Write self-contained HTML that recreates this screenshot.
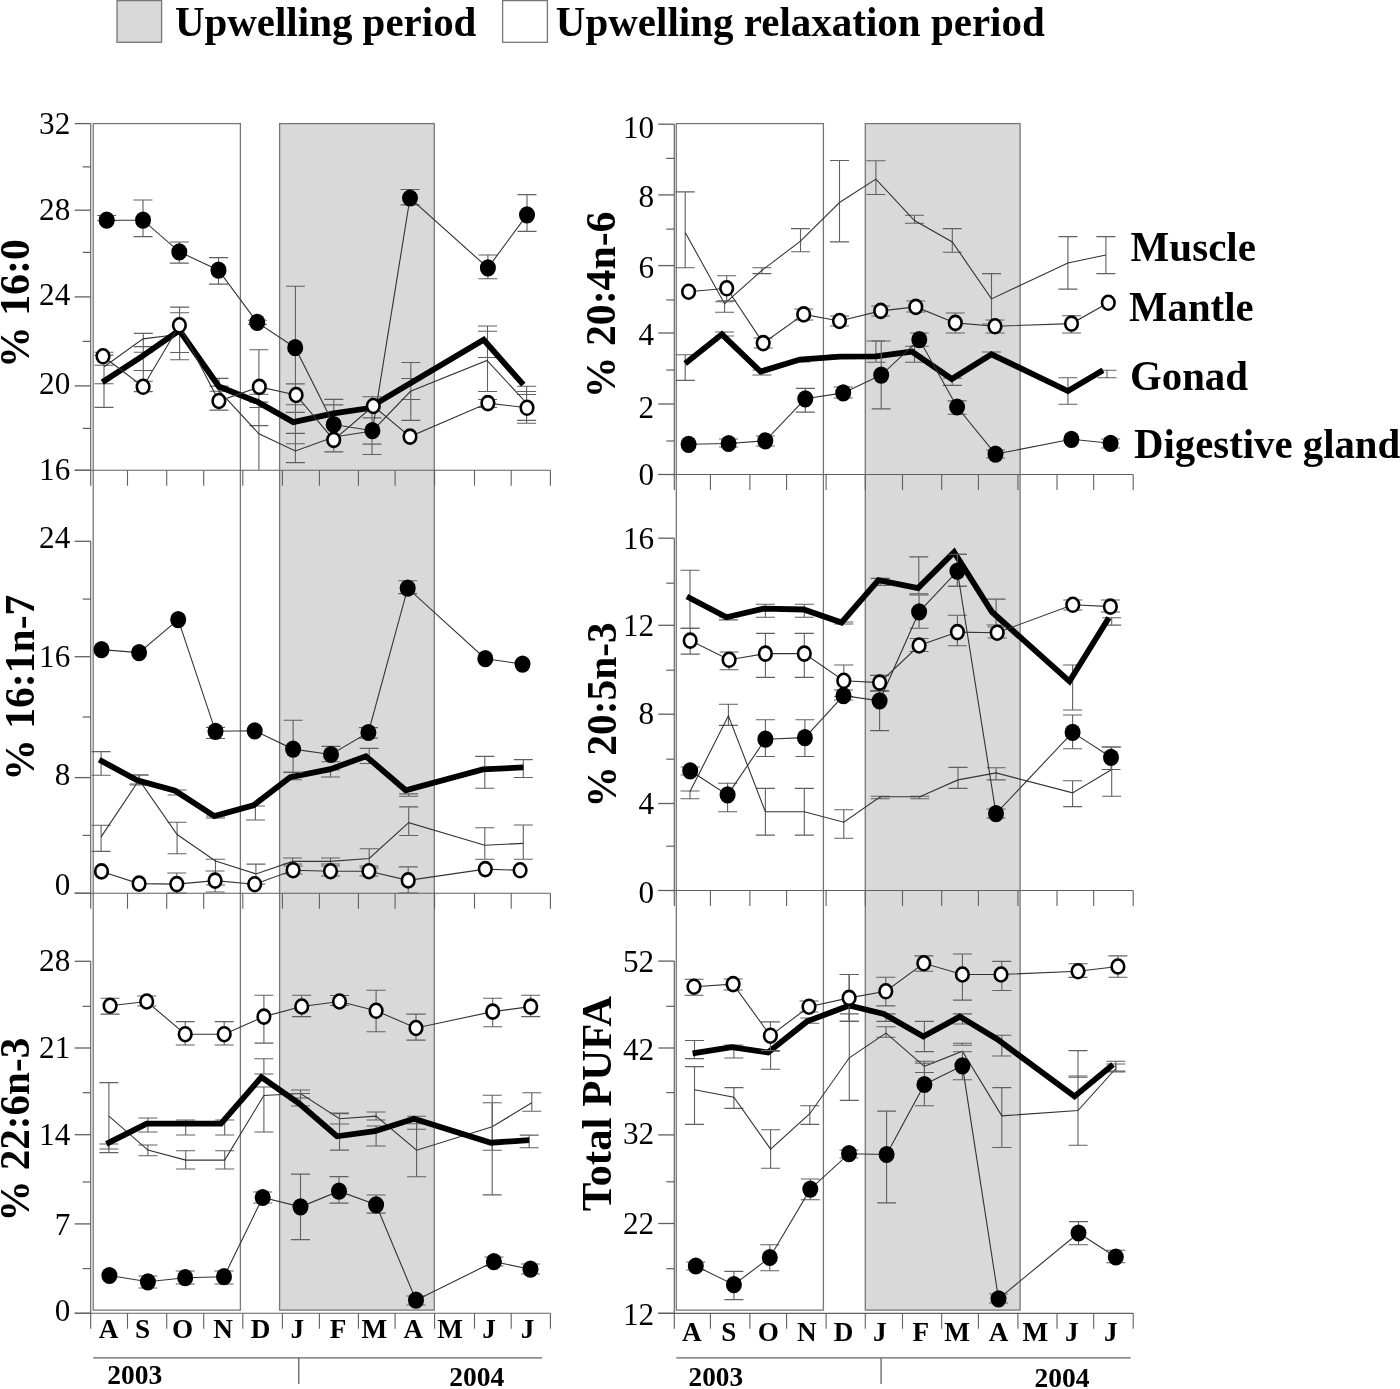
<!DOCTYPE html><html><head><meta charset="utf-8"><style>html,body{margin:0;padding:0;background:#fff;overflow:hidden}svg{display:block;will-change:transform}</style></head><body><svg width="1400" height="1389" viewBox="0 0 1400 1389">
<style>text{font-family:"Liberation Serif",serif;fill:#000}.tl{font-size:31.5px}.b{font-weight:bold}</style>
<rect width="1400" height="1389" fill="#fff"/>
<rect x="279.6" y="123.6" width="154.7" height="1186.5" fill="#d9d9d9" stroke="#777" stroke-width="1.3"/>
<rect x="93.2" y="123.6" width="147.2" height="1186.5" fill="none" stroke="#777" stroke-width="1.3"/>
<rect x="865.3" y="123.6" width="154.8" height="1186.5" fill="#d9d9d9" stroke="#777" stroke-width="1.3"/>
<rect x="676.3" y="123.6" width="147.1" height="1186.5" fill="none" stroke="#777" stroke-width="1.3"/>
<line x1="90.7" y1="123.6" x2="90.7" y2="485.7" stroke="#606060" stroke-width="1.15"/>
<line x1="74.7" y1="470.2" x2="550.4" y2="470.2" stroke="#606060" stroke-width="1.15"/>
<line x1="127.5" y1="470.2" x2="127.5" y2="485.7" stroke="#606060" stroke-width="1.1"/>
<line x1="166.7" y1="470.2" x2="166.7" y2="485.7" stroke="#606060" stroke-width="1.1"/>
<line x1="203.7" y1="470.2" x2="203.7" y2="485.7" stroke="#606060" stroke-width="1.1"/>
<line x1="242.8" y1="470.2" x2="242.8" y2="485.7" stroke="#606060" stroke-width="1.1"/>
<line x1="282.4" y1="470.2" x2="282.4" y2="485.7" stroke="#606060" stroke-width="1.1"/>
<line x1="319.4" y1="470.2" x2="319.4" y2="485.7" stroke="#606060" stroke-width="1.1"/>
<line x1="358.4" y1="470.2" x2="358.4" y2="485.7" stroke="#606060" stroke-width="1.1"/>
<line x1="395.1" y1="470.2" x2="395.1" y2="485.7" stroke="#606060" stroke-width="1.1"/>
<line x1="434.6" y1="470.2" x2="434.6" y2="485.7" stroke="#606060" stroke-width="1.1"/>
<line x1="474.5" y1="470.2" x2="474.5" y2="485.7" stroke="#606060" stroke-width="1.1"/>
<line x1="511.2" y1="470.2" x2="511.2" y2="485.7" stroke="#606060" stroke-width="1.1"/>
<line x1="550.4" y1="470.2" x2="550.4" y2="485.7" stroke="#606060" stroke-width="1.1"/>
<line x1="74.7" y1="123.6" x2="90.7" y2="123.6" stroke="#606060" stroke-width="1.3"/>
<text x="70.3" y="133.5" text-anchor="end" class="tl" textLength="31.2" lengthAdjust="spacingAndGlyphs">32</text>
<line x1="74.7" y1="210.2" x2="90.7" y2="210.2" stroke="#606060" stroke-width="1.3"/>
<text x="70.3" y="220.2" text-anchor="end" class="tl" textLength="31.2" lengthAdjust="spacingAndGlyphs">28</text>
<line x1="74.7" y1="296.9" x2="90.7" y2="296.9" stroke="#606060" stroke-width="1.3"/>
<text x="70.3" y="304.5" text-anchor="end" class="tl" textLength="31.2" lengthAdjust="spacingAndGlyphs">24</text>
<line x1="74.7" y1="385.9" x2="90.7" y2="385.9" stroke="#606060" stroke-width="1.3"/>
<text x="70.3" y="393.6" text-anchor="end" class="tl" textLength="31.2" lengthAdjust="spacingAndGlyphs">20</text>
<line x1="74.7" y1="470.2" x2="90.7" y2="470.2" stroke="#606060" stroke-width="1.3"/>
<text x="70.3" y="479.9" text-anchor="end" class="tl" textLength="31.2" lengthAdjust="spacingAndGlyphs">16</text>
<line x1="82.7" y1="166.9" x2="90.7" y2="166.9" stroke="#606060" stroke-width="1.2"/>
<line x1="82.7" y1="252.4" x2="90.7" y2="252.4" stroke="#606060" stroke-width="1.2"/>
<line x1="82.7" y1="341.4" x2="90.7" y2="341.4" stroke="#606060" stroke-width="1.2"/>
<line x1="82.7" y1="428.4" x2="90.7" y2="428.4" stroke="#606060" stroke-width="1.2"/>
<line x1="90.7" y1="541.3" x2="90.7" y2="908.7" stroke="#606060" stroke-width="1.15"/>
<line x1="74.7" y1="893.2" x2="550.4" y2="893.2" stroke="#606060" stroke-width="1.15"/>
<line x1="127.5" y1="893.2" x2="127.5" y2="908.7" stroke="#606060" stroke-width="1.1"/>
<line x1="166.7" y1="893.2" x2="166.7" y2="908.7" stroke="#606060" stroke-width="1.1"/>
<line x1="203.7" y1="893.2" x2="203.7" y2="908.7" stroke="#606060" stroke-width="1.1"/>
<line x1="242.8" y1="893.2" x2="242.8" y2="908.7" stroke="#606060" stroke-width="1.1"/>
<line x1="282.4" y1="893.2" x2="282.4" y2="908.7" stroke="#606060" stroke-width="1.1"/>
<line x1="319.4" y1="893.2" x2="319.4" y2="908.7" stroke="#606060" stroke-width="1.1"/>
<line x1="358.4" y1="893.2" x2="358.4" y2="908.7" stroke="#606060" stroke-width="1.1"/>
<line x1="395.1" y1="893.2" x2="395.1" y2="908.7" stroke="#606060" stroke-width="1.1"/>
<line x1="434.6" y1="893.2" x2="434.6" y2="908.7" stroke="#606060" stroke-width="1.1"/>
<line x1="474.5" y1="893.2" x2="474.5" y2="908.7" stroke="#606060" stroke-width="1.1"/>
<line x1="511.2" y1="893.2" x2="511.2" y2="908.7" stroke="#606060" stroke-width="1.1"/>
<line x1="550.4" y1="893.2" x2="550.4" y2="908.7" stroke="#606060" stroke-width="1.1"/>
<line x1="74.7" y1="541.3" x2="90.7" y2="541.3" stroke="#606060" stroke-width="1.3"/>
<text x="70.3" y="548.4" text-anchor="end" class="tl" textLength="31.2" lengthAdjust="spacingAndGlyphs">24</text>
<line x1="74.7" y1="656.7" x2="90.7" y2="656.7" stroke="#606060" stroke-width="1.3"/>
<text x="70.3" y="666.7" text-anchor="end" class="tl" textLength="31.2" lengthAdjust="spacingAndGlyphs">16</text>
<line x1="74.7" y1="777.6" x2="90.7" y2="777.6" stroke="#606060" stroke-width="1.3"/>
<text x="70.3" y="784.9" text-anchor="end" class="tl" textLength="15.6" lengthAdjust="spacingAndGlyphs">8</text>
<line x1="74.7" y1="893.2" x2="90.7" y2="893.2" stroke="#606060" stroke-width="1.3"/>
<text x="70.3" y="895.2" text-anchor="end" class="tl" textLength="15.6" lengthAdjust="spacingAndGlyphs">0</text>
<line x1="82.7" y1="599.1" x2="90.7" y2="599.1" stroke="#606060" stroke-width="1.2"/>
<line x1="82.7" y1="717.0" x2="90.7" y2="717.0" stroke="#606060" stroke-width="1.2"/>
<line x1="82.7" y1="835.4" x2="90.7" y2="835.4" stroke="#606060" stroke-width="1.2"/>
<line x1="90.7" y1="961.3" x2="90.7" y2="1328.7" stroke="#606060" stroke-width="1.15"/>
<line x1="74.7" y1="1313.2" x2="550.4" y2="1313.2" stroke="#606060" stroke-width="1.15"/>
<line x1="127.5" y1="1313.2" x2="127.5" y2="1328.7" stroke="#606060" stroke-width="1.1"/>
<line x1="166.7" y1="1313.2" x2="166.7" y2="1328.7" stroke="#606060" stroke-width="1.1"/>
<line x1="203.7" y1="1313.2" x2="203.7" y2="1328.7" stroke="#606060" stroke-width="1.1"/>
<line x1="242.8" y1="1313.2" x2="242.8" y2="1328.7" stroke="#606060" stroke-width="1.1"/>
<line x1="282.4" y1="1313.2" x2="282.4" y2="1328.7" stroke="#606060" stroke-width="1.1"/>
<line x1="319.4" y1="1313.2" x2="319.4" y2="1328.7" stroke="#606060" stroke-width="1.1"/>
<line x1="358.4" y1="1313.2" x2="358.4" y2="1328.7" stroke="#606060" stroke-width="1.1"/>
<line x1="395.1" y1="1313.2" x2="395.1" y2="1328.7" stroke="#606060" stroke-width="1.1"/>
<line x1="434.6" y1="1313.2" x2="434.6" y2="1328.7" stroke="#606060" stroke-width="1.1"/>
<line x1="474.5" y1="1313.2" x2="474.5" y2="1328.7" stroke="#606060" stroke-width="1.1"/>
<line x1="511.2" y1="1313.2" x2="511.2" y2="1328.7" stroke="#606060" stroke-width="1.1"/>
<line x1="550.4" y1="1313.2" x2="550.4" y2="1328.7" stroke="#606060" stroke-width="1.1"/>
<line x1="74.7" y1="961.3" x2="90.7" y2="961.3" stroke="#606060" stroke-width="1.3"/>
<text x="70.3" y="971.4" text-anchor="end" class="tl" textLength="31.2" lengthAdjust="spacingAndGlyphs">28</text>
<line x1="74.7" y1="1048.0" x2="90.7" y2="1048.0" stroke="#606060" stroke-width="1.3"/>
<text x="70.3" y="1058.2" text-anchor="end" class="tl" textLength="31.2" lengthAdjust="spacingAndGlyphs">21</text>
<line x1="74.7" y1="1134.7" x2="90.7" y2="1134.7" stroke="#606060" stroke-width="1.3"/>
<text x="70.3" y="1144.9" text-anchor="end" class="tl" textLength="31.2" lengthAdjust="spacingAndGlyphs">14</text>
<line x1="74.7" y1="1223.9" x2="90.7" y2="1223.9" stroke="#606060" stroke-width="1.3"/>
<text x="70.3" y="1234.5" text-anchor="end" class="tl" textLength="15.6" lengthAdjust="spacingAndGlyphs">7</text>
<line x1="74.7" y1="1313.2" x2="90.7" y2="1313.2" stroke="#606060" stroke-width="1.3"/>
<text x="70.3" y="1320.6" text-anchor="end" class="tl" textLength="15.6" lengthAdjust="spacingAndGlyphs">0</text>
<line x1="82.7" y1="1006.3" x2="90.7" y2="1006.3" stroke="#606060" stroke-width="1.2"/>
<line x1="82.7" y1="1092.7" x2="90.7" y2="1092.7" stroke="#606060" stroke-width="1.2"/>
<line x1="82.7" y1="1182.0" x2="90.7" y2="1182.0" stroke="#606060" stroke-width="1.2"/>
<line x1="82.7" y1="1268.6" x2="90.7" y2="1268.6" stroke="#606060" stroke-width="1.2"/>
<line x1="674.3" y1="124.2" x2="674.3" y2="490.0" stroke="#606060" stroke-width="1.15"/>
<line x1="658.3" y1="474.5" x2="1133.2" y2="474.5" stroke="#606060" stroke-width="1.15"/>
<line x1="710.4" y1="474.5" x2="710.4" y2="490.0" stroke="#606060" stroke-width="1.1"/>
<line x1="749.9" y1="474.5" x2="749.9" y2="490.0" stroke="#606060" stroke-width="1.1"/>
<line x1="786.6" y1="474.5" x2="786.6" y2="490.0" stroke="#606060" stroke-width="1.1"/>
<line x1="826.1" y1="474.5" x2="826.1" y2="490.0" stroke="#606060" stroke-width="1.1"/>
<line x1="865.3" y1="474.5" x2="865.3" y2="490.0" stroke="#606060" stroke-width="1.1"/>
<line x1="902.5" y1="474.5" x2="902.5" y2="490.0" stroke="#606060" stroke-width="1.1"/>
<line x1="941.7" y1="474.5" x2="941.7" y2="490.0" stroke="#606060" stroke-width="1.1"/>
<line x1="978.4" y1="474.5" x2="978.4" y2="490.0" stroke="#606060" stroke-width="1.1"/>
<line x1="1017.9" y1="474.5" x2="1017.9" y2="490.0" stroke="#606060" stroke-width="1.1"/>
<line x1="1057.0" y1="474.5" x2="1057.0" y2="490.0" stroke="#606060" stroke-width="1.1"/>
<line x1="1093.7" y1="474.5" x2="1093.7" y2="490.0" stroke="#606060" stroke-width="1.1"/>
<line x1="1133.2" y1="474.5" x2="1133.2" y2="490.0" stroke="#606060" stroke-width="1.1"/>
<line x1="658.3" y1="124.2" x2="674.3" y2="124.2" stroke="#606060" stroke-width="1.3"/>
<text x="654.2" y="138.0" text-anchor="end" class="tl" textLength="31.2" lengthAdjust="spacingAndGlyphs">10</text>
<line x1="658.3" y1="194.9" x2="674.3" y2="194.9" stroke="#606060" stroke-width="1.3"/>
<text x="654.2" y="207.3" text-anchor="end" class="tl" textLength="15.6" lengthAdjust="spacingAndGlyphs">8</text>
<line x1="658.3" y1="265.6" x2="674.3" y2="265.6" stroke="#606060" stroke-width="1.3"/>
<text x="654.2" y="277.5" text-anchor="end" class="tl" textLength="15.6" lengthAdjust="spacingAndGlyphs">6</text>
<line x1="658.3" y1="333.0" x2="674.3" y2="333.0" stroke="#606060" stroke-width="1.3"/>
<text x="654.2" y="344.9" text-anchor="end" class="tl" textLength="15.6" lengthAdjust="spacingAndGlyphs">4</text>
<line x1="658.3" y1="404.0" x2="674.3" y2="404.0" stroke="#606060" stroke-width="1.3"/>
<text x="654.2" y="417.5" text-anchor="end" class="tl" textLength="15.6" lengthAdjust="spacingAndGlyphs">2</text>
<line x1="658.3" y1="474.5" x2="674.3" y2="474.5" stroke="#606060" stroke-width="1.3"/>
<text x="654.2" y="485.3" text-anchor="end" class="tl" textLength="15.6" lengthAdjust="spacingAndGlyphs">0</text>
<line x1="666.3" y1="158.4" x2="674.3" y2="158.4" stroke="#606060" stroke-width="1.2"/>
<line x1="666.3" y1="229.1" x2="674.3" y2="229.1" stroke="#606060" stroke-width="1.2"/>
<line x1="666.3" y1="299.9" x2="674.3" y2="299.9" stroke="#606060" stroke-width="1.2"/>
<line x1="666.3" y1="370.0" x2="674.3" y2="370.0" stroke="#606060" stroke-width="1.2"/>
<line x1="666.3" y1="441.0" x2="674.3" y2="441.0" stroke="#606060" stroke-width="1.2"/>
<line x1="674.3" y1="538.2" x2="674.3" y2="906.0" stroke="#606060" stroke-width="1.15"/>
<line x1="658.3" y1="890.5" x2="1133.2" y2="890.5" stroke="#606060" stroke-width="1.15"/>
<line x1="710.4" y1="890.5" x2="710.4" y2="906.0" stroke="#606060" stroke-width="1.1"/>
<line x1="749.9" y1="890.5" x2="749.9" y2="906.0" stroke="#606060" stroke-width="1.1"/>
<line x1="786.6" y1="890.5" x2="786.6" y2="906.0" stroke="#606060" stroke-width="1.1"/>
<line x1="826.1" y1="890.5" x2="826.1" y2="906.0" stroke="#606060" stroke-width="1.1"/>
<line x1="865.3" y1="890.5" x2="865.3" y2="906.0" stroke="#606060" stroke-width="1.1"/>
<line x1="902.5" y1="890.5" x2="902.5" y2="906.0" stroke="#606060" stroke-width="1.1"/>
<line x1="941.7" y1="890.5" x2="941.7" y2="906.0" stroke="#606060" stroke-width="1.1"/>
<line x1="978.4" y1="890.5" x2="978.4" y2="906.0" stroke="#606060" stroke-width="1.1"/>
<line x1="1017.9" y1="890.5" x2="1017.9" y2="906.0" stroke="#606060" stroke-width="1.1"/>
<line x1="1057.0" y1="890.5" x2="1057.0" y2="906.0" stroke="#606060" stroke-width="1.1"/>
<line x1="1093.7" y1="890.5" x2="1093.7" y2="906.0" stroke="#606060" stroke-width="1.1"/>
<line x1="1133.2" y1="890.5" x2="1133.2" y2="906.0" stroke="#606060" stroke-width="1.1"/>
<line x1="658.3" y1="538.2" x2="674.3" y2="538.2" stroke="#606060" stroke-width="1.3"/>
<text x="654.2" y="548.7" text-anchor="end" class="tl" textLength="31.2" lengthAdjust="spacingAndGlyphs">16</text>
<line x1="658.3" y1="625.3" x2="674.3" y2="625.3" stroke="#606060" stroke-width="1.3"/>
<text x="654.2" y="636.0" text-anchor="end" class="tl" textLength="31.2" lengthAdjust="spacingAndGlyphs">12</text>
<line x1="658.3" y1="714.2" x2="674.3" y2="714.2" stroke="#606060" stroke-width="1.3"/>
<text x="654.2" y="724.2" text-anchor="end" class="tl" textLength="15.6" lengthAdjust="spacingAndGlyphs">8</text>
<line x1="658.3" y1="803.5" x2="674.3" y2="803.5" stroke="#606060" stroke-width="1.3"/>
<text x="654.2" y="814.0" text-anchor="end" class="tl" textLength="15.6" lengthAdjust="spacingAndGlyphs">4</text>
<line x1="658.3" y1="890.5" x2="674.3" y2="890.5" stroke="#606060" stroke-width="1.3"/>
<text x="654.2" y="902.5" text-anchor="end" class="tl" textLength="15.6" lengthAdjust="spacingAndGlyphs">0</text>
<line x1="666.3" y1="583.2" x2="674.3" y2="583.2" stroke="#606060" stroke-width="1.2"/>
<line x1="666.3" y1="670.2" x2="674.3" y2="670.2" stroke="#606060" stroke-width="1.2"/>
<line x1="666.3" y1="759.2" x2="674.3" y2="759.2" stroke="#606060" stroke-width="1.2"/>
<line x1="666.3" y1="846.2" x2="674.3" y2="846.2" stroke="#606060" stroke-width="1.2"/>
<line x1="674.3" y1="961.1" x2="674.3" y2="1328.8" stroke="#606060" stroke-width="1.15"/>
<line x1="658.3" y1="1313.3" x2="1133.2" y2="1313.3" stroke="#606060" stroke-width="1.15"/>
<line x1="710.4" y1="1313.3" x2="710.4" y2="1328.8" stroke="#606060" stroke-width="1.1"/>
<line x1="749.9" y1="1313.3" x2="749.9" y2="1328.8" stroke="#606060" stroke-width="1.1"/>
<line x1="786.6" y1="1313.3" x2="786.6" y2="1328.8" stroke="#606060" stroke-width="1.1"/>
<line x1="826.1" y1="1313.3" x2="826.1" y2="1328.8" stroke="#606060" stroke-width="1.1"/>
<line x1="865.3" y1="1313.3" x2="865.3" y2="1328.8" stroke="#606060" stroke-width="1.1"/>
<line x1="902.5" y1="1313.3" x2="902.5" y2="1328.8" stroke="#606060" stroke-width="1.1"/>
<line x1="941.7" y1="1313.3" x2="941.7" y2="1328.8" stroke="#606060" stroke-width="1.1"/>
<line x1="978.4" y1="1313.3" x2="978.4" y2="1328.8" stroke="#606060" stroke-width="1.1"/>
<line x1="1017.9" y1="1313.3" x2="1017.9" y2="1328.8" stroke="#606060" stroke-width="1.1"/>
<line x1="1057.0" y1="1313.3" x2="1057.0" y2="1328.8" stroke="#606060" stroke-width="1.1"/>
<line x1="1093.7" y1="1313.3" x2="1093.7" y2="1328.8" stroke="#606060" stroke-width="1.1"/>
<line x1="1133.2" y1="1313.3" x2="1133.2" y2="1328.8" stroke="#606060" stroke-width="1.1"/>
<line x1="658.3" y1="961.1" x2="674.3" y2="961.1" stroke="#606060" stroke-width="1.3"/>
<text x="654.2" y="972.2" text-anchor="end" class="tl" textLength="31.2" lengthAdjust="spacingAndGlyphs">52</text>
<line x1="658.3" y1="1048.0" x2="674.3" y2="1048.0" stroke="#606060" stroke-width="1.3"/>
<text x="654.2" y="1060.0" text-anchor="end" class="tl" textLength="31.2" lengthAdjust="spacingAndGlyphs">42</text>
<line x1="658.3" y1="1134.9" x2="674.3" y2="1134.9" stroke="#606060" stroke-width="1.3"/>
<text x="654.2" y="1144.1" text-anchor="end" class="tl" textLength="31.2" lengthAdjust="spacingAndGlyphs">32</text>
<line x1="658.3" y1="1223.5" x2="674.3" y2="1223.5" stroke="#606060" stroke-width="1.3"/>
<text x="654.2" y="1234.1" text-anchor="end" class="tl" textLength="31.2" lengthAdjust="spacingAndGlyphs">22</text>
<line x1="658.3" y1="1313.3" x2="674.3" y2="1313.3" stroke="#606060" stroke-width="1.3"/>
<text x="654.2" y="1324.7" text-anchor="end" class="tl" textLength="31.2" lengthAdjust="spacingAndGlyphs">12</text>
<line x1="666.3" y1="1006.3" x2="674.3" y2="1006.3" stroke="#606060" stroke-width="1.2"/>
<line x1="666.3" y1="1092.6" x2="674.3" y2="1092.6" stroke="#606060" stroke-width="1.2"/>
<line x1="666.3" y1="1181.8" x2="674.3" y2="1181.8" stroke="#606060" stroke-width="1.2"/>
<line x1="666.3" y1="1268.7" x2="674.3" y2="1268.7" stroke="#606060" stroke-width="1.2"/>
<path d="M104.0 352.2V407.4M94.5 352.2h19M94.5 355.1h19M94.5 365.2h19M94.5 383.8h19M94.5 407.4h19" stroke="#606060" stroke-width="1.1" fill="none"/>
<path d="M143.3 333.4V391.6M133.8 333.4h19M133.8 346.6h19M133.8 352.2h19M133.8 370.5h19M133.8 381.2h19M133.8 391.6h19" stroke="#606060" stroke-width="1.1" fill="none"/>
<path d="M179.6 307.1V359.8M170.1 307.1h19M170.1 312.7h19M170.1 352.5h19M170.1 359.8h19" stroke="#606060" stroke-width="1.1" fill="none"/>
<path d="M219.0 378.4V410.1M209.5 378.4h19M209.5 386.1h19M209.5 391.3h19M209.5 410.1h19" stroke="#606060" stroke-width="1.1" fill="none"/>
<path d="M258.9 349.7V470.0M249.4 349.7h19M249.4 394.2h19M249.4 402.1h19M249.4 407.5h19M249.4 425.6h19" stroke="#606060" stroke-width="1.1" fill="none"/>
<path d="M295.4 286.2V462.6M285.9 286.2h19M285.9 383.9h19M285.9 404.7h19M285.9 412.4h19M285.9 433.4h19M285.9 443.8h19M285.9 462.6h19" stroke="#606060" stroke-width="1.1" fill="none"/>
<path d="M333.8 399.4V451.9M324.3 399.4h19M324.3 404.9h19M324.3 451.9h19" stroke="#606060" stroke-width="1.1" fill="none"/>
<path d="M372.0 396.8V454.5M362.5 396.8h19M362.5 417.9h19M362.5 444.1h19M362.5 454.5h19" stroke="#606060" stroke-width="1.1" fill="none"/>
<path d="M410.8 362.5V420.4M401.3 362.5h19M401.3 378.5h19M401.3 399.5h19M401.3 420.4h19" stroke="#606060" stroke-width="1.1" fill="none"/>
<path d="M487.5 326.0V391.5M478.0 326.0h19M478.0 331.3h19M478.0 357.5h19M478.0 391.5h19M478.0 399.5h19M478.0 407.5h19" stroke="#606060" stroke-width="1.1" fill="none"/>
<path d="M526.6 386.3V423.3M517.1 386.3h19M517.1 391.5h19M517.1 394.5h19M517.1 420.4h19M517.1 423.3h19" stroke="#606060" stroke-width="1.1" fill="none"/>
<path d="M104.1 366.7 L143.0 338.9 L180.0 334.3 L219.0 390.7 L258.9 433.8 L295.4 450.9 L333.8 437.0 L372.4 431.0 L410.5 391.3 L487.0 360.5 L526.5 403.0" stroke="#333" stroke-width="1.1" fill="none"/>
<path d="M102.3 382.3 L143.1 355.7 L179.4 330.4 L218.9 386.5 L257.6 401.9 L293.3 422.1 L333.7 413.4 L368.2 408.3 L483.7 339.8 L523.3 384.7" stroke="#000" stroke-width="5.8" fill="none" stroke-linejoin="miter" stroke-miterlimit="3"/>
<path d="M103.0 356.3 L143.1 386.8 L179.4 325.3 L218.9 401.0 L259.3 386.9 L296.1 395.0 L333.7 439.9 L373.3 406.0 L410.0 436.6 L487.9 403.1 L527.0 407.8" stroke="#333" stroke-width="1.1" fill="none"/>
<path d="M106.7 215.5V220.7M97.2 215.5h19M97.2 220.7h19" stroke="#606060" stroke-width="1.1" fill="none"/>
<path d="M143.0 200.0V236.6M133.5 200.0h19M133.5 236.6h19" stroke="#606060" stroke-width="1.1" fill="none"/>
<path d="M179.3 242.0V263.1M169.8 242.0h19M169.8 263.1h19" stroke="#606060" stroke-width="1.1" fill="none"/>
<path d="M218.5 257.6V284.1M209.0 257.6h19M209.0 284.1h19" stroke="#606060" stroke-width="1.1" fill="none"/>
<path d="M257.4 320.3V324.4M247.9 320.3h19M247.9 324.4h19" stroke="#606060" stroke-width="1.1" fill="none"/>
<path d="M410.0 189.5V204.9M400.5 189.5h19M400.5 204.9h19" stroke="#606060" stroke-width="1.1" fill="none"/>
<path d="M487.9 255.0V278.7M478.4 255.0h19M478.4 278.7h19" stroke="#606060" stroke-width="1.1" fill="none"/>
<path d="M527.0 194.6V231.4M517.5 194.6h19M517.5 231.4h19" stroke="#606060" stroke-width="1.1" fill="none"/>
<path d="M106.7 220.2 L143.0 220.2 L179.3 251.8 L218.5 270.2 L257.2 322.4 L295.2 347.7 L333.7 424.5 L372.4 430.7 L410.0 198.0 L487.9 267.9 L527.0 214.9" stroke="#333" stroke-width="1.1" fill="none"/>
<ellipse cx="103.0" cy="356.3" rx="6.3" ry="7.0" fill="#fff" stroke="#000" stroke-width="2.6"/>
<ellipse cx="143.1" cy="386.8" rx="6.3" ry="7.0" fill="#fff" stroke="#000" stroke-width="2.6"/>
<ellipse cx="179.4" cy="325.3" rx="6.3" ry="7.0" fill="#fff" stroke="#000" stroke-width="2.6"/>
<ellipse cx="218.9" cy="401.0" rx="6.3" ry="7.0" fill="#fff" stroke="#000" stroke-width="2.6"/>
<ellipse cx="259.3" cy="386.9" rx="6.3" ry="7.0" fill="#fff" stroke="#000" stroke-width="2.6"/>
<ellipse cx="296.1" cy="395.0" rx="6.3" ry="7.0" fill="#fff" stroke="#000" stroke-width="2.6"/>
<ellipse cx="333.7" cy="439.9" rx="6.3" ry="7.0" fill="#fff" stroke="#000" stroke-width="2.6"/>
<ellipse cx="373.3" cy="406.0" rx="6.3" ry="7.0" fill="#fff" stroke="#000" stroke-width="2.6"/>
<ellipse cx="410.0" cy="436.6" rx="6.3" ry="7.0" fill="#fff" stroke="#000" stroke-width="2.6"/>
<ellipse cx="487.9" cy="403.1" rx="6.3" ry="7.0" fill="#fff" stroke="#000" stroke-width="2.6"/>
<ellipse cx="527.0" cy="407.8" rx="6.3" ry="7.0" fill="#fff" stroke="#000" stroke-width="2.6"/>
<ellipse cx="106.7" cy="220.2" rx="8.0" ry="8.6" fill="#000"/>
<ellipse cx="143.0" cy="220.2" rx="8.0" ry="8.6" fill="#000"/>
<ellipse cx="179.3" cy="251.8" rx="8.0" ry="8.6" fill="#000"/>
<ellipse cx="218.5" cy="270.2" rx="8.0" ry="8.6" fill="#000"/>
<ellipse cx="257.2" cy="322.4" rx="8.0" ry="8.6" fill="#000"/>
<ellipse cx="295.2" cy="347.7" rx="8.0" ry="8.6" fill="#000"/>
<ellipse cx="333.7" cy="424.5" rx="8.0" ry="8.6" fill="#000"/>
<ellipse cx="372.4" cy="430.7" rx="8.0" ry="8.6" fill="#000"/>
<ellipse cx="410.0" cy="198.0" rx="8.0" ry="8.6" fill="#000"/>
<ellipse cx="487.9" cy="267.9" rx="8.0" ry="8.6" fill="#000"/>
<ellipse cx="527.0" cy="214.9" rx="8.0" ry="8.6" fill="#000"/>
<path d="M101.1 825.3V851.4M91.6 825.3h19M91.6 851.4h19" stroke="#606060" stroke-width="1.1" fill="none"/>
<path d="M139.1 775.0V785.0M129.6 775.0h19M129.6 785.0h19" stroke="#606060" stroke-width="1.1" fill="none"/>
<path d="M177.1 822.3V853.7M167.6 822.3h19M167.6 853.7h19" stroke="#606060" stroke-width="1.1" fill="none"/>
<path d="M215.5 859.2V885.0M206.0 859.2h19M206.0 885.0h19" stroke="#606060" stroke-width="1.1" fill="none"/>
<path d="M255.9 864.1V884.0M246.4 864.1h19M246.4 884.0h19" stroke="#606060" stroke-width="1.1" fill="none"/>
<path d="M292.6 858.0V864.0M283.1 858.0h19M283.1 864.0h19" stroke="#606060" stroke-width="1.1" fill="none"/>
<path d="M330.5 858.0V864.0M321.0 858.0h19M321.0 864.0h19" stroke="#606060" stroke-width="1.1" fill="none"/>
<path d="M369.2 848.7V868.0M359.7 848.7h19M359.7 868.0h19" stroke="#606060" stroke-width="1.1" fill="none"/>
<path d="M408.7 806.9V835.5M399.2 806.9h19M399.2 835.5h19" stroke="#606060" stroke-width="1.1" fill="none"/>
<path d="M484.8 827.7V859.3M475.3 827.7h19M475.3 859.3h19" stroke="#606060" stroke-width="1.1" fill="none"/>
<path d="M523.3 825.0V859.3M513.8 825.0h19M513.8 859.3h19" stroke="#606060" stroke-width="1.1" fill="none"/>
<path d="M101.1 836.9 L139.1 780.0 L177.1 834.5 L215.5 861.0 L255.9 873.9 L292.6 861.4 L330.5 861.4 L369.2 858.5 L408.7 822.6 L484.8 845.3 L523.3 843.4" stroke="#333" stroke-width="1.1" fill="none"/>
<path d="M101.1 751.6V775.3M91.6 751.6h19M91.6 775.3h19" stroke="#606060" stroke-width="1.1" fill="none"/>
<path d="M139.1 775.0V784.0M129.6 775.0h19M129.6 784.0h19" stroke="#606060" stroke-width="1.1" fill="none"/>
<path d="M177.1 790.0V795.0M167.6 790.0h19M167.6 795.0h19" stroke="#606060" stroke-width="1.1" fill="none"/>
<path d="M215.5 816.0V818.0M206.0 816.0h19M206.0 818.0h19" stroke="#606060" stroke-width="1.1" fill="none"/>
<path d="M255.4 806.0V820.0M245.9 806.0h19M245.9 820.0h19" stroke="#606060" stroke-width="1.1" fill="none"/>
<path d="M292.6 772.4V779.7M283.1 772.4h19M283.1 779.7h19" stroke="#606060" stroke-width="1.1" fill="none"/>
<path d="M330.5 770.0V777.0M321.0 770.0h19M321.0 777.0h19" stroke="#606060" stroke-width="1.1" fill="none"/>
<path d="M369.2 748.4V763.5M359.7 748.4h19M359.7 763.5h19" stroke="#606060" stroke-width="1.1" fill="none"/>
<path d="M408.7 793.9V796.3M399.2 793.9h19M399.2 796.3h19" stroke="#606060" stroke-width="1.1" fill="none"/>
<path d="M484.8 756.4V788.3M475.3 756.4h19M475.3 788.3h19" stroke="#606060" stroke-width="1.1" fill="none"/>
<path d="M523.3 759.6V777.5M513.8 759.6h19M513.8 777.5h19" stroke="#606060" stroke-width="1.1" fill="none"/>
<path d="M99.2 759.7 L137.2 780.4 L175.2 790.8 L214.4 816.1 L253.5 805.4 L290.2 777.2 L330.5 769.2 L366.0 756.2 L405.7 790.2 L482.9 769.4 L523.3 767.4" stroke="#000" stroke-width="5.8" fill="none" stroke-linejoin="miter" stroke-miterlimit="3"/>
<path d="M176.8 873.0V893.0M167.3 873.0h19M167.3 893.0h19" stroke="#606060" stroke-width="1.1" fill="none"/>
<path d="M215.1 871.0V892.0M205.6 871.0h19M205.6 892.0h19" stroke="#606060" stroke-width="1.1" fill="none"/>
<path d="M293.1 866.0V874.0M283.6 866.0h19M283.6 874.0h19" stroke="#606060" stroke-width="1.1" fill="none"/>
<path d="M330.5 866.0V876.0M321.0 866.0h19M321.0 876.0h19" stroke="#606060" stroke-width="1.1" fill="none"/>
<path d="M368.9 866.0V876.0M359.4 866.0h19M359.4 876.0h19" stroke="#606060" stroke-width="1.1" fill="none"/>
<path d="M408.2 866.9V893.0M398.7 866.9h19M398.7 893.0h19" stroke="#606060" stroke-width="1.1" fill="none"/>
<path d="M101.5 871.4 L139.1 883.6 L176.8 884.1 L215.1 880.6 L254.7 884.2 L293.1 870.2 L330.5 871.2 L368.9 871.2 L408.2 880.4 L485.3 869.1 L520.1 870.3" stroke="#333" stroke-width="1.1" fill="none"/>
<path d="M215.5 727.4V738.5M206.0 727.4h19M206.0 738.5h19" stroke="#606060" stroke-width="1.1" fill="none"/>
<path d="M293.1 720.2V772.4M283.6 720.2h19M283.6 772.4h19" stroke="#606060" stroke-width="1.1" fill="none"/>
<path d="M331.0 746.4V761.8M321.5 746.4h19M321.5 761.8h19" stroke="#606060" stroke-width="1.1" fill="none"/>
<path d="M368.4 727.6V738.1M358.9 727.6h19M358.9 738.1h19" stroke="#606060" stroke-width="1.1" fill="none"/>
<path d="M407.7 580.8V593.6M398.2 580.8h19M398.2 593.6h19" stroke="#606060" stroke-width="1.1" fill="none"/>
<path d="M101.5 649.6 L139.1 652.6 L178.2 619.6 L215.5 731.3 L254.7 730.8 L293.1 749.1 L331.0 754.5 L368.4 732.5 L407.7 588.2 L485.3 658.7 L522.5 664.1" stroke="#333" stroke-width="1.1" fill="none"/>
<ellipse cx="101.5" cy="871.4" rx="6.3" ry="7.0" fill="#fff" stroke="#000" stroke-width="2.6"/>
<ellipse cx="139.1" cy="883.6" rx="6.3" ry="7.0" fill="#fff" stroke="#000" stroke-width="2.6"/>
<ellipse cx="176.8" cy="884.1" rx="6.3" ry="7.0" fill="#fff" stroke="#000" stroke-width="2.6"/>
<ellipse cx="215.1" cy="880.6" rx="6.3" ry="7.0" fill="#fff" stroke="#000" stroke-width="2.6"/>
<ellipse cx="254.7" cy="884.2" rx="6.3" ry="7.0" fill="#fff" stroke="#000" stroke-width="2.6"/>
<ellipse cx="293.1" cy="870.2" rx="6.3" ry="7.0" fill="#fff" stroke="#000" stroke-width="2.6"/>
<ellipse cx="330.5" cy="871.2" rx="6.3" ry="7.0" fill="#fff" stroke="#000" stroke-width="2.6"/>
<ellipse cx="368.9" cy="871.2" rx="6.3" ry="7.0" fill="#fff" stroke="#000" stroke-width="2.6"/>
<ellipse cx="408.2" cy="880.4" rx="6.3" ry="7.0" fill="#fff" stroke="#000" stroke-width="2.6"/>
<ellipse cx="485.3" cy="869.1" rx="6.3" ry="7.0" fill="#fff" stroke="#000" stroke-width="2.6"/>
<ellipse cx="520.1" cy="870.3" rx="6.3" ry="7.0" fill="#fff" stroke="#000" stroke-width="2.6"/>
<ellipse cx="101.5" cy="649.6" rx="8.0" ry="8.6" fill="#000"/>
<ellipse cx="139.1" cy="652.6" rx="8.0" ry="8.6" fill="#000"/>
<ellipse cx="178.2" cy="619.6" rx="8.0" ry="8.6" fill="#000"/>
<ellipse cx="215.5" cy="731.3" rx="8.0" ry="8.6" fill="#000"/>
<ellipse cx="254.7" cy="730.8" rx="8.0" ry="8.6" fill="#000"/>
<ellipse cx="293.1" cy="749.1" rx="8.0" ry="8.6" fill="#000"/>
<ellipse cx="331.0" cy="754.5" rx="8.0" ry="8.6" fill="#000"/>
<ellipse cx="368.4" cy="732.5" rx="8.0" ry="8.6" fill="#000"/>
<ellipse cx="407.7" cy="588.2" rx="8.0" ry="8.6" fill="#000"/>
<ellipse cx="485.3" cy="658.7" rx="8.0" ry="8.6" fill="#000"/>
<ellipse cx="522.5" cy="664.1" rx="8.0" ry="8.6" fill="#000"/>
<path d="M108.9 1082.6V1152.6M99.4 1082.6h19M99.4 1152.6h19" stroke="#606060" stroke-width="1.1" fill="none"/>
<path d="M147.9 1145.0V1155.8M138.4 1145.0h19M138.4 1155.8h19" stroke="#606060" stroke-width="1.1" fill="none"/>
<path d="M185.7 1150.8V1169.0M176.2 1150.8h19M176.2 1169.0h19" stroke="#606060" stroke-width="1.1" fill="none"/>
<path d="M224.7 1150.8V1169.0M215.2 1150.8h19M215.2 1169.0h19" stroke="#606060" stroke-width="1.1" fill="none"/>
<path d="M263.9 1087.0V1132.0M254.4 1087.0h19M254.4 1132.0h19" stroke="#606060" stroke-width="1.1" fill="none"/>
<path d="M300.5 1090.0V1098.0M291.0 1090.0h19M291.0 1098.0h19" stroke="#606060" stroke-width="1.1" fill="none"/>
<path d="M339.5 1113.0V1124.0M330.0 1113.0h19M330.0 1124.0h19" stroke="#606060" stroke-width="1.1" fill="none"/>
<path d="M376.1 1112.0V1120.0M366.6 1112.0h19M366.6 1120.0h19" stroke="#606060" stroke-width="1.1" fill="none"/>
<path d="M416.6 1123.7V1176.7M407.1 1123.7h19M407.1 1176.7h19" stroke="#606060" stroke-width="1.1" fill="none"/>
<path d="M492.2 1095.3V1194.9M482.7 1095.3h19M482.7 1194.9h19" stroke="#606060" stroke-width="1.1" fill="none"/>
<path d="M531.8 1092.8V1111.2M522.3 1092.8h19M522.3 1111.2h19" stroke="#606060" stroke-width="1.1" fill="none"/>
<path d="M108.9 1116.1 L147.9 1150.1 L185.7 1160.1 L224.7 1160.1 L263.9 1095.5 L300.5 1093.5 L339.5 1118.7 L376.1 1116.1 L416.6 1150.2 L492.2 1126.8 L531.8 1102.8" stroke="#333" stroke-width="1.1" fill="none"/>
<path d="M108.9 1144.0V1149.0M99.4 1144.0h19M99.4 1149.0h19" stroke="#606060" stroke-width="1.1" fill="none"/>
<path d="M147.9 1118.0V1132.0M138.4 1118.0h19M138.4 1132.0h19" stroke="#606060" stroke-width="1.1" fill="none"/>
<path d="M185.7 1120.0V1135.0M176.2 1120.0h19M176.2 1135.0h19" stroke="#606060" stroke-width="1.1" fill="none"/>
<path d="M224.7 1120.0V1135.0M215.2 1120.0h19M215.2 1135.0h19" stroke="#606060" stroke-width="1.1" fill="none"/>
<path d="M263.9 1058.7V1074.0M254.4 1058.7h19M254.4 1074.0h19" stroke="#606060" stroke-width="1.1" fill="none"/>
<path d="M300.5 1093.5V1106.0M291.0 1093.5h19M291.0 1106.0h19" stroke="#606060" stroke-width="1.1" fill="none"/>
<path d="M339.5 1113.6V1150.1M330.0 1113.6h19M330.0 1150.1h19" stroke="#606060" stroke-width="1.1" fill="none"/>
<path d="M376.1 1126.0V1146.0M366.6 1126.0h19M366.6 1146.0h19" stroke="#606060" stroke-width="1.1" fill="none"/>
<path d="M416.6 1116.2V1129.3M407.1 1116.2h19M407.1 1129.3h19" stroke="#606060" stroke-width="1.1" fill="none"/>
<path d="M492.2 1102.8V1150.2M482.7 1102.8h19M482.7 1150.2h19" stroke="#606060" stroke-width="1.1" fill="none"/>
<path d="M529.2 1135.1V1147.7M519.7 1135.1h19M519.7 1147.7h19" stroke="#606060" stroke-width="1.1" fill="none"/>
<path d="M106.4 1143.8 L146.7 1123.6 L185.2 1123.6 L221.0 1123.6 L261.4 1077.1 L299.2 1103.5 L337.0 1136.3 L374.8 1131.2 L414.0 1118.7 L490.9 1142.7 L529.2 1140.2" stroke="#000" stroke-width="5.8" fill="none" stroke-linejoin="miter" stroke-miterlimit="3"/>
<path d="M110.1 998.2V1014.1M100.6 998.2h19M100.6 1014.1h19" stroke="#606060" stroke-width="1.1" fill="none"/>
<path d="M146.7 996.0V1006.0M137.2 996.0h19M137.2 1006.0h19" stroke="#606060" stroke-width="1.1" fill="none"/>
<path d="M185.2 1021.6V1045.0M175.7 1021.6h19M175.7 1045.0h19" stroke="#606060" stroke-width="1.1" fill="none"/>
<path d="M224.2 1021.6V1045.0M214.7 1021.6h19M214.7 1045.0h19" stroke="#606060" stroke-width="1.1" fill="none"/>
<path d="M263.9 995.2V1043.1M254.4 995.2h19M254.4 1043.1h19" stroke="#606060" stroke-width="1.1" fill="none"/>
<path d="M301.7 995.2V1016.6M292.2 995.2h19M292.2 1016.6h19" stroke="#606060" stroke-width="1.1" fill="none"/>
<path d="M339.5 995.5V1005.5M330.0 995.5h19M330.0 1005.5h19" stroke="#606060" stroke-width="1.1" fill="none"/>
<path d="M376.1 990.2V1031.7M366.6 990.2h19M366.6 1031.7h19" stroke="#606060" stroke-width="1.1" fill="none"/>
<path d="M416.0 1014.1V1040.1M406.5 1014.1h19M406.5 1040.1h19" stroke="#606060" stroke-width="1.1" fill="none"/>
<path d="M492.7 998.2V1026.7M483.2 998.2h19M483.2 1026.7h19" stroke="#606060" stroke-width="1.1" fill="none"/>
<path d="M530.7 995.2V1016.6M521.2 995.2h19M521.2 1016.6h19" stroke="#606060" stroke-width="1.1" fill="none"/>
<path d="M110.1 1005.8 L146.7 1001.5 L185.2 1034.2 L224.2 1034.2 L263.9 1016.6 L301.7 1006.5 L339.5 1001.5 L376.1 1010.8 L416.0 1028.0 L492.7 1011.6 L530.7 1006.6" stroke="#333" stroke-width="1.1" fill="none"/>
<path d="M147.9 1276.0V1288.0M138.4 1276.0h19M138.4 1288.0h19" stroke="#606060" stroke-width="1.1" fill="none"/>
<path d="M185.2 1271.0V1284.0M175.7 1271.0h19M175.7 1284.0h19" stroke="#606060" stroke-width="1.1" fill="none"/>
<path d="M224.0 1271.0V1284.0M214.5 1271.0h19M214.5 1284.0h19" stroke="#606060" stroke-width="1.1" fill="none"/>
<path d="M262.7 1192.0V1203.0M253.2 1192.0h19M253.2 1203.0h19" stroke="#606060" stroke-width="1.1" fill="none"/>
<path d="M300.5 1174.1V1239.6M291.0 1174.1h19M291.0 1239.6h19" stroke="#606060" stroke-width="1.1" fill="none"/>
<path d="M339.0 1176.6V1203.1M329.5 1176.6h19M329.5 1203.1h19" stroke="#606060" stroke-width="1.1" fill="none"/>
<path d="M376.1 1195.0V1213.1M366.6 1195.0h19M366.6 1213.1h19" stroke="#606060" stroke-width="1.1" fill="none"/>
<path d="M416.0 1296.0V1305.0M406.5 1296.0h19M406.5 1305.0h19" stroke="#606060" stroke-width="1.1" fill="none"/>
<path d="M493.9 1257.0V1266.0M484.4 1257.0h19M484.4 1266.0h19" stroke="#606060" stroke-width="1.1" fill="none"/>
<path d="M530.5 1264.0V1274.0M521.0 1264.0h19M521.0 1274.0h19" stroke="#606060" stroke-width="1.1" fill="none"/>
<path d="M109.4 1275.5 L147.9 1281.8 L185.2 1277.7 L224.0 1276.7 L262.7 1197.5 L300.5 1206.8 L339.0 1191.2 L376.1 1204.8 L416.0 1300.2 L493.9 1261.7 L530.5 1269.2" stroke="#333" stroke-width="1.1" fill="none"/>
<ellipse cx="110.1" cy="1005.8" rx="6.3" ry="7.0" fill="#fff" stroke="#000" stroke-width="2.6"/>
<ellipse cx="146.7" cy="1001.5" rx="6.3" ry="7.0" fill="#fff" stroke="#000" stroke-width="2.6"/>
<ellipse cx="185.2" cy="1034.2" rx="6.3" ry="7.0" fill="#fff" stroke="#000" stroke-width="2.6"/>
<ellipse cx="224.2" cy="1034.2" rx="6.3" ry="7.0" fill="#fff" stroke="#000" stroke-width="2.6"/>
<ellipse cx="263.9" cy="1016.6" rx="6.3" ry="7.0" fill="#fff" stroke="#000" stroke-width="2.6"/>
<ellipse cx="301.7" cy="1006.5" rx="6.3" ry="7.0" fill="#fff" stroke="#000" stroke-width="2.6"/>
<ellipse cx="339.5" cy="1001.5" rx="6.3" ry="7.0" fill="#fff" stroke="#000" stroke-width="2.6"/>
<ellipse cx="376.1" cy="1010.8" rx="6.3" ry="7.0" fill="#fff" stroke="#000" stroke-width="2.6"/>
<ellipse cx="416.0" cy="1028.0" rx="6.3" ry="7.0" fill="#fff" stroke="#000" stroke-width="2.6"/>
<ellipse cx="492.7" cy="1011.6" rx="6.3" ry="7.0" fill="#fff" stroke="#000" stroke-width="2.6"/>
<ellipse cx="530.7" cy="1006.6" rx="6.3" ry="7.0" fill="#fff" stroke="#000" stroke-width="2.6"/>
<ellipse cx="109.4" cy="1275.5" rx="8.0" ry="8.6" fill="#000"/>
<ellipse cx="147.9" cy="1281.8" rx="8.0" ry="8.6" fill="#000"/>
<ellipse cx="185.2" cy="1277.7" rx="8.0" ry="8.6" fill="#000"/>
<ellipse cx="224.0" cy="1276.7" rx="8.0" ry="8.6" fill="#000"/>
<ellipse cx="262.7" cy="1197.5" rx="8.0" ry="8.6" fill="#000"/>
<ellipse cx="300.5" cy="1206.8" rx="8.0" ry="8.6" fill="#000"/>
<ellipse cx="339.0" cy="1191.2" rx="8.0" ry="8.6" fill="#000"/>
<ellipse cx="376.1" cy="1204.8" rx="8.0" ry="8.6" fill="#000"/>
<ellipse cx="416.0" cy="1300.2" rx="8.0" ry="8.6" fill="#000"/>
<ellipse cx="493.9" cy="1261.7" rx="8.0" ry="8.6" fill="#000"/>
<ellipse cx="530.5" cy="1269.2" rx="8.0" ry="8.6" fill="#000"/>
<path d="M685.2 191.9V267.8M675.7 191.9h19M675.7 267.8h19" stroke="#606060" stroke-width="1.1" fill="none"/>
<path d="M724.6 301.8V312.2M715.1 301.8h19M715.1 312.2h19" stroke="#606060" stroke-width="1.1" fill="none"/>
<path d="M761.9 267.8V273.6M752.4 267.8h19M752.4 273.6h19" stroke="#606060" stroke-width="1.1" fill="none"/>
<path d="M800.5 228.6V251.8M791.0 228.6h19M791.0 251.8h19" stroke="#606060" stroke-width="1.1" fill="none"/>
<path d="M839.5 160.5V241.9M830.0 160.5h19M830.0 241.9h19" stroke="#606060" stroke-width="1.1" fill="none"/>
<path d="M875.9 160.7V194.5M866.4 160.7h19M866.4 194.5h19" stroke="#606060" stroke-width="1.1" fill="none"/>
<path d="M914.5 215.3V223.3M905.0 215.3h19M905.0 223.3h19" stroke="#606060" stroke-width="1.1" fill="none"/>
<path d="M952.3 228.6V252.3M942.8 228.6h19M942.8 252.3h19" stroke="#606060" stroke-width="1.1" fill="none"/>
<path d="M991.5 273.6V324.0M982.0 273.6h19M982.0 324.0h19" stroke="#606060" stroke-width="1.1" fill="none"/>
<path d="M1067.9 236.6V289.1M1058.4 236.6h19M1058.4 289.1h19" stroke="#606060" stroke-width="1.1" fill="none"/>
<path d="M1105.9 236.6V273.6M1096.4 236.6h19M1096.4 273.6h19" stroke="#606060" stroke-width="1.1" fill="none"/>
<path d="M685.2 232.4 L724.6 303.7 L761.9 270.4 L800.5 241.1 L839.5 202.5 L875.9 179.1 L914.5 220.6 L952.3 241.9 L991.5 298.9 L1067.9 263.0 L1105.9 255.0" stroke="#333" stroke-width="1.1" fill="none"/>
<path d="M685.2 354.8V380.4M675.7 354.8h19M675.7 380.4h19" stroke="#606060" stroke-width="1.1" fill="none"/>
<path d="M724.6 332.0V336.0M715.1 332.0h19M715.1 336.0h19" stroke="#606060" stroke-width="1.1" fill="none"/>
<path d="M761.9 370.0V375.0M752.4 370.0h19M752.4 375.0h19" stroke="#606060" stroke-width="1.1" fill="none"/>
<path d="M800.5 360.0V362.0M791.0 360.0h19M791.0 362.0h19" stroke="#606060" stroke-width="1.1" fill="none"/>
<path d="M839.6 355.0V358.0M830.1 355.0h19M830.1 358.0h19" stroke="#606060" stroke-width="1.1" fill="none"/>
<path d="M875.9 341.0V362.3M866.4 341.0h19M866.4 362.3h19" stroke="#606060" stroke-width="1.1" fill="none"/>
<path d="M914.5 346.3V362.3M905.0 346.3h19M905.0 362.3h19" stroke="#606060" stroke-width="1.1" fill="none"/>
<path d="M952.3 378.3V385.4M942.8 378.3h19M942.8 385.4h19" stroke="#606060" stroke-width="1.1" fill="none"/>
<path d="M991.5 352.0V357.0M982.0 352.0h19M982.0 357.0h19" stroke="#606060" stroke-width="1.1" fill="none"/>
<path d="M1067.9 377.7V404.3M1058.4 377.7h19M1058.4 404.3h19" stroke="#606060" stroke-width="1.1" fill="none"/>
<path d="M1107.0 370.3V377.7M1097.5 370.3h19M1097.5 377.7h19" stroke="#606060" stroke-width="1.1" fill="none"/>
<path d="M685.2 363.6 L721.9 334.3 L760.5 371.6 L799.9 359.6 L840.0 356.7 L875.9 356.4 L911.9 351.6 L951.8 379.0 L991.5 354.3 L1067.9 391.0 L1103.0 370.3" stroke="#000" stroke-width="5.8" fill="none" stroke-linejoin="miter" stroke-miterlimit="3"/>
<path d="M726.7 275.8V300.8M717.2 275.8h19M717.2 300.8h19" stroke="#606060" stroke-width="1.1" fill="none"/>
<path d="M763.2 338.0V348.0M753.7 338.0h19M753.7 348.0h19" stroke="#606060" stroke-width="1.1" fill="none"/>
<path d="M803.7 309.0V320.0M794.2 309.0h19M794.2 320.0h19" stroke="#606060" stroke-width="1.1" fill="none"/>
<path d="M839.5 316.0V326.0M830.0 316.0h19M830.0 326.0h19" stroke="#606060" stroke-width="1.1" fill="none"/>
<path d="M880.7 306.0V316.0M871.2 306.0h19M871.2 316.0h19" stroke="#606060" stroke-width="1.1" fill="none"/>
<path d="M915.8 301.0V312.0M906.3 301.0h19M906.3 312.0h19" stroke="#606060" stroke-width="1.1" fill="none"/>
<path d="M955.3 313.0V333.0M945.8 313.0h19M945.8 333.0h19" stroke="#606060" stroke-width="1.1" fill="none"/>
<path d="M995.0 320.0V333.0M985.5 320.0h19M985.5 333.0h19" stroke="#606060" stroke-width="1.1" fill="none"/>
<path d="M1071.5 315.7V333.0M1062.0 315.7h19M1062.0 333.0h19" stroke="#606060" stroke-width="1.1" fill="none"/>
<path d="M688.6 291.7 L726.7 288.3 L763.2 343.1 L803.7 314.4 L839.5 321.0 L880.7 310.9 L915.8 306.9 L955.3 322.9 L995.0 326.3 L1071.5 323.6 L1108.3 302.8" stroke="#333" stroke-width="1.1" fill="none"/>
<path d="M728.6 439.0V447.0M719.1 439.0h19M719.1 447.0h19" stroke="#606060" stroke-width="1.1" fill="none"/>
<path d="M765.3 436.0V446.0M755.8 436.0h19M755.8 446.0h19" stroke="#606060" stroke-width="1.1" fill="none"/>
<path d="M805.3 388.4V412.1M795.8 388.4h19M795.8 412.1h19" stroke="#606060" stroke-width="1.1" fill="none"/>
<path d="M843.2 387.0V398.0M833.7 387.0h19M833.7 398.0h19" stroke="#606060" stroke-width="1.1" fill="none"/>
<path d="M881.2 341.0V408.9M871.7 341.0h19M871.7 408.9h19" stroke="#606060" stroke-width="1.1" fill="none"/>
<path d="M919.3 333.0V346.3M909.8 333.0h19M909.8 346.3h19" stroke="#606060" stroke-width="1.1" fill="none"/>
<path d="M957.1 400.9V414.2M947.6 400.9h19M947.6 414.2h19" stroke="#606060" stroke-width="1.1" fill="none"/>
<path d="M995.5 450.0V458.0M986.0 450.0h19M986.0 458.0h19" stroke="#606060" stroke-width="1.1" fill="none"/>
<path d="M1110.6 439.0V448.0M1101.1 439.0h19M1101.1 448.0h19" stroke="#606060" stroke-width="1.1" fill="none"/>
<path d="M688.6 444.3 L728.6 443.5 L765.3 440.8 L805.3 398.8 L843.2 392.9 L881.2 375.1 L919.3 339.6 L957.1 407.0 L995.5 454.1 L1071.4 439.3 L1110.6 443.3" stroke="#333" stroke-width="1.1" fill="none"/>
<ellipse cx="688.6" cy="291.7" rx="6.3" ry="7.0" fill="#fff" stroke="#000" stroke-width="2.6"/>
<ellipse cx="726.7" cy="288.3" rx="6.3" ry="7.0" fill="#fff" stroke="#000" stroke-width="2.6"/>
<ellipse cx="763.2" cy="343.1" rx="6.3" ry="7.0" fill="#fff" stroke="#000" stroke-width="2.6"/>
<ellipse cx="803.7" cy="314.4" rx="6.3" ry="7.0" fill="#fff" stroke="#000" stroke-width="2.6"/>
<ellipse cx="839.5" cy="321.0" rx="6.3" ry="7.0" fill="#fff" stroke="#000" stroke-width="2.6"/>
<ellipse cx="880.7" cy="310.9" rx="6.3" ry="7.0" fill="#fff" stroke="#000" stroke-width="2.6"/>
<ellipse cx="915.8" cy="306.9" rx="6.3" ry="7.0" fill="#fff" stroke="#000" stroke-width="2.6"/>
<ellipse cx="955.3" cy="322.9" rx="6.3" ry="7.0" fill="#fff" stroke="#000" stroke-width="2.6"/>
<ellipse cx="995.0" cy="326.3" rx="6.3" ry="7.0" fill="#fff" stroke="#000" stroke-width="2.6"/>
<ellipse cx="1071.5" cy="323.6" rx="6.3" ry="7.0" fill="#fff" stroke="#000" stroke-width="2.6"/>
<ellipse cx="1108.3" cy="302.8" rx="6.3" ry="7.0" fill="#fff" stroke="#000" stroke-width="2.6"/>
<ellipse cx="688.6" cy="444.3" rx="8.0" ry="8.6" fill="#000"/>
<ellipse cx="728.6" cy="443.5" rx="8.0" ry="8.6" fill="#000"/>
<ellipse cx="765.3" cy="440.8" rx="8.0" ry="8.6" fill="#000"/>
<ellipse cx="805.3" cy="398.8" rx="8.0" ry="8.6" fill="#000"/>
<ellipse cx="843.2" cy="392.9" rx="8.0" ry="8.6" fill="#000"/>
<ellipse cx="881.2" cy="375.1" rx="8.0" ry="8.6" fill="#000"/>
<ellipse cx="919.3" cy="339.6" rx="8.0" ry="8.6" fill="#000"/>
<ellipse cx="957.1" cy="407.0" rx="8.0" ry="8.6" fill="#000"/>
<ellipse cx="995.5" cy="454.1" rx="8.0" ry="8.6" fill="#000"/>
<ellipse cx="1071.4" cy="439.3" rx="8.0" ry="8.6" fill="#000"/>
<ellipse cx="1110.6" cy="443.3" rx="8.0" ry="8.6" fill="#000"/>
<path d="M690.0 791.0V798.8M680.5 791.0h19M680.5 798.8h19" stroke="#606060" stroke-width="1.1" fill="none"/>
<path d="M728.4 704.2V725.4M718.9 704.2h19M718.9 725.4h19" stroke="#606060" stroke-width="1.1" fill="none"/>
<path d="M765.4 788.4V835.1M755.9 788.4h19M755.9 835.1h19" stroke="#606060" stroke-width="1.1" fill="none"/>
<path d="M804.3 788.4V835.1M794.8 788.4h19M794.8 835.1h19" stroke="#606060" stroke-width="1.1" fill="none"/>
<path d="M843.8 809.7V838.2M834.3 809.7h19M834.3 838.2h19" stroke="#606060" stroke-width="1.1" fill="none"/>
<path d="M880.2 796.2V798.8M870.7 796.2h19M870.7 798.8h19" stroke="#606060" stroke-width="1.1" fill="none"/>
<path d="M919.8 796.2V798.8M910.3 796.2h19M910.3 798.8h19" stroke="#606060" stroke-width="1.1" fill="none"/>
<path d="M958.0 767.4V788.4M948.5 767.4h19M948.5 788.4h19" stroke="#606060" stroke-width="1.1" fill="none"/>
<path d="M996.1 767.7V779.9M986.6 767.7h19M986.6 779.9h19" stroke="#606060" stroke-width="1.1" fill="none"/>
<path d="M1072.6 780.7V806.6M1063.1 780.7h19M1063.1 806.6h19" stroke="#606060" stroke-width="1.1" fill="none"/>
<path d="M1111.7 747.0V796.2M1102.2 747.0h19M1102.2 796.2h19" stroke="#606060" stroke-width="1.1" fill="none"/>
<path d="M690.0 791.6 L728.4 715.8 L765.4 811.8 L804.3 811.8 L843.8 822.2 L880.2 796.7 L919.8 796.7 L958.0 779.9 L996.1 772.9 L1072.6 792.9 L1111.7 769.5" stroke="#333" stroke-width="1.1" fill="none"/>
<path d="M690.0 570.3V628.2M680.5 570.3h19M680.5 628.2h19" stroke="#606060" stroke-width="1.1" fill="none"/>
<path d="M728.4 617.0V619.9M718.9 617.0h19M718.9 619.9h19" stroke="#606060" stroke-width="1.1" fill="none"/>
<path d="M765.4 604.3V617.3M755.9 604.3h19M755.9 617.3h19" stroke="#606060" stroke-width="1.1" fill="none"/>
<path d="M804.3 604.3V617.3M794.8 604.3h19M794.8 617.3h19" stroke="#606060" stroke-width="1.1" fill="none"/>
<path d="M843.8 622.0V624.0M834.3 622.0h19M834.3 624.0h19" stroke="#606060" stroke-width="1.1" fill="none"/>
<path d="M880.2 578.4V585.4M870.7 578.4h19M870.7 585.4h19" stroke="#606060" stroke-width="1.1" fill="none"/>
<path d="M918.8 556.9V593.9M909.3 556.9h19M909.3 593.9h19" stroke="#606060" stroke-width="1.1" fill="none"/>
<path d="M957.4 554.3V586.2M947.9 554.3h19M947.9 586.2h19" stroke="#606060" stroke-width="1.1" fill="none"/>
<path d="M996.1 599.1V625.0M986.6 599.1h19M986.6 625.0h19" stroke="#606060" stroke-width="1.1" fill="none"/>
<path d="M1072.6 665.0V710.0M1063.1 665.0h19M1063.1 710.0h19" stroke="#606060" stroke-width="1.1" fill="none"/>
<path d="M1111.7 617.8V625.1M1102.2 617.8h19M1102.2 625.1h19" stroke="#606060" stroke-width="1.1" fill="none"/>
<path d="M686.9 596.5 L726.5 617.3 L763.4 608.7 L803.6 609.5 L841.6 622.5 L878.4 580.2 L918.0 588.0 L954.1 552.2 L992.0 612.0 L1069.5 681.3 L1108.9 617.8" stroke="#000" stroke-width="5.8" fill="none" stroke-linejoin="miter" stroke-miterlimit="3"/>
<path d="M690.2 628.2V654.1M680.7 628.2h19M680.7 654.1h19" stroke="#606060" stroke-width="1.1" fill="none"/>
<path d="M729.1 652.0V669.7M719.6 652.0h19M719.6 669.7h19" stroke="#606060" stroke-width="1.1" fill="none"/>
<path d="M765.4 633.4V677.4M755.9 633.4h19M755.9 677.4h19" stroke="#606060" stroke-width="1.1" fill="none"/>
<path d="M804.3 633.4V677.4M794.8 633.4h19M794.8 677.4h19" stroke="#606060" stroke-width="1.1" fill="none"/>
<path d="M843.8 665.0V696.6M834.3 665.0h19M834.3 696.6h19" stroke="#606060" stroke-width="1.1" fill="none"/>
<path d="M879.6 675.4V690.9M870.1 675.4h19M870.1 690.9h19" stroke="#606060" stroke-width="1.1" fill="none"/>
<path d="M919.1 638.5V651.5M909.6 638.5h19M909.6 651.5h19" stroke="#606060" stroke-width="1.1" fill="none"/>
<path d="M957.4 615.2V645.8M947.9 615.2h19M947.9 645.8h19" stroke="#606060" stroke-width="1.1" fill="none"/>
<path d="M997.2 627.0V638.0M987.7 627.0h19M987.7 638.0h19" stroke="#606060" stroke-width="1.1" fill="none"/>
<path d="M1072.8 600.0V610.0M1063.3 600.0h19M1063.3 610.0h19" stroke="#606060" stroke-width="1.1" fill="none"/>
<path d="M1110.4 600.0V612.0M1100.9 600.0h19M1100.9 612.0h19" stroke="#606060" stroke-width="1.1" fill="none"/>
<path d="M690.2 640.6 L729.1 659.8 L765.4 653.6 L804.3 653.6 L843.8 680.8 L879.6 682.6 L919.1 645.5 L957.4 632.1 L997.2 632.7 L1072.8 604.8 L1110.4 606.6" stroke="#333" stroke-width="1.1" fill="none"/>
<path d="M690.2 767.0V775.0M680.7 767.0h19M680.7 775.0h19" stroke="#606060" stroke-width="1.1" fill="none"/>
<path d="M727.6 783.3V811.8M718.1 783.3h19M718.1 811.8h19" stroke="#606060" stroke-width="1.1" fill="none"/>
<path d="M765.4 719.7V756.5M755.9 719.7h19M755.9 756.5h19" stroke="#606060" stroke-width="1.1" fill="none"/>
<path d="M804.9 719.7V756.5M795.4 719.7h19M795.4 756.5h19" stroke="#606060" stroke-width="1.1" fill="none"/>
<path d="M843.5 690.0V700.0M834.0 690.0h19M834.0 700.0h19" stroke="#606060" stroke-width="1.1" fill="none"/>
<path d="M879.6 690.9V730.6M870.1 690.9h19M870.1 730.6h19" stroke="#606060" stroke-width="1.1" fill="none"/>
<path d="M919.1 595.0V628.2M909.6 595.0h19M909.6 628.2h19" stroke="#606060" stroke-width="1.1" fill="none"/>
<path d="M957.4 554.3V586.2M947.9 554.3h19M947.9 586.2h19" stroke="#606060" stroke-width="1.1" fill="none"/>
<path d="M996.0 809.0V818.0M986.5 809.0h19M986.5 818.0h19" stroke="#606060" stroke-width="1.1" fill="none"/>
<path d="M1072.6 715.0V748.8M1063.1 715.0h19M1063.1 748.8h19" stroke="#606060" stroke-width="1.1" fill="none"/>
<path d="M1111.0 747.0V769.5M1101.5 747.0h19M1101.5 769.5h19" stroke="#606060" stroke-width="1.1" fill="none"/>
<path d="M690.2 770.8 L727.6 794.9 L765.4 739.2 L804.9 737.6 L843.5 695.6 L879.6 700.8 L919.1 611.8 L957.4 571.1 L996.0 813.6 L1072.6 732.4 L1111.0 757.3" stroke="#333" stroke-width="1.1" fill="none"/>
<ellipse cx="690.2" cy="640.6" rx="6.3" ry="7.0" fill="#fff" stroke="#000" stroke-width="2.6"/>
<ellipse cx="729.1" cy="659.8" rx="6.3" ry="7.0" fill="#fff" stroke="#000" stroke-width="2.6"/>
<ellipse cx="765.4" cy="653.6" rx="6.3" ry="7.0" fill="#fff" stroke="#000" stroke-width="2.6"/>
<ellipse cx="804.3" cy="653.6" rx="6.3" ry="7.0" fill="#fff" stroke="#000" stroke-width="2.6"/>
<ellipse cx="843.8" cy="680.8" rx="6.3" ry="7.0" fill="#fff" stroke="#000" stroke-width="2.6"/>
<ellipse cx="879.6" cy="682.6" rx="6.3" ry="7.0" fill="#fff" stroke="#000" stroke-width="2.6"/>
<ellipse cx="919.1" cy="645.5" rx="6.3" ry="7.0" fill="#fff" stroke="#000" stroke-width="2.6"/>
<ellipse cx="957.4" cy="632.1" rx="6.3" ry="7.0" fill="#fff" stroke="#000" stroke-width="2.6"/>
<ellipse cx="997.2" cy="632.7" rx="6.3" ry="7.0" fill="#fff" stroke="#000" stroke-width="2.6"/>
<ellipse cx="1072.8" cy="604.8" rx="6.3" ry="7.0" fill="#fff" stroke="#000" stroke-width="2.6"/>
<ellipse cx="1110.4" cy="606.6" rx="6.3" ry="7.0" fill="#fff" stroke="#000" stroke-width="2.6"/>
<ellipse cx="690.2" cy="770.8" rx="8.0" ry="8.6" fill="#000"/>
<ellipse cx="727.6" cy="794.9" rx="8.0" ry="8.6" fill="#000"/>
<ellipse cx="765.4" cy="739.2" rx="8.0" ry="8.6" fill="#000"/>
<ellipse cx="804.9" cy="737.6" rx="8.0" ry="8.6" fill="#000"/>
<ellipse cx="843.5" cy="695.6" rx="8.0" ry="8.6" fill="#000"/>
<ellipse cx="879.6" cy="700.8" rx="8.0" ry="8.6" fill="#000"/>
<ellipse cx="919.1" cy="611.8" rx="8.0" ry="8.6" fill="#000"/>
<ellipse cx="957.4" cy="571.1" rx="8.0" ry="8.6" fill="#000"/>
<ellipse cx="996.0" cy="813.6" rx="8.0" ry="8.6" fill="#000"/>
<ellipse cx="1072.6" cy="732.4" rx="8.0" ry="8.6" fill="#000"/>
<ellipse cx="1111.0" cy="757.3" rx="8.0" ry="8.6" fill="#000"/>
<path d="M694.5 1066.6V1124.4M685.0 1066.6h19M685.0 1124.4h19" stroke="#606060" stroke-width="1.1" fill="none"/>
<path d="M733.9 1087.6V1108.4M724.4 1087.6h19M724.4 1108.4h19" stroke="#606060" stroke-width="1.1" fill="none"/>
<path d="M770.6 1129.7V1168.3M761.1 1129.7h19M761.1 1168.3h19" stroke="#606060" stroke-width="1.1" fill="none"/>
<path d="M809.8 1105.7V1124.4M800.3 1105.7h19M800.3 1124.4h19" stroke="#606060" stroke-width="1.1" fill="none"/>
<path d="M849.3 974.5V1100.4M839.8 974.5h19M839.8 1100.4h19" stroke="#606060" stroke-width="1.1" fill="none"/>
<path d="M886.0 1026.7V1037.3M876.5 1026.7h19M876.5 1037.3h19" stroke="#606060" stroke-width="1.1" fill="none"/>
<path d="M924.4 1061.3V1072.5M914.9 1061.3h19M914.9 1072.5h19" stroke="#606060" stroke-width="1.1" fill="none"/>
<path d="M962.4 1043.2V1045.3M952.9 1043.2h19M952.9 1045.3h19" stroke="#606060" stroke-width="1.1" fill="none"/>
<path d="M1001.8 1087.6V1147.5M992.3 1087.6h19M992.3 1147.5h19" stroke="#606060" stroke-width="1.1" fill="none"/>
<path d="M1078.0 1076.0V1145.2M1068.5 1076.0h19M1068.5 1145.2h19" stroke="#606060" stroke-width="1.1" fill="none"/>
<path d="M1115.8 1064.0V1072.0M1106.3 1064.0h19M1106.3 1072.0h19" stroke="#606060" stroke-width="1.1" fill="none"/>
<path d="M694.5 1089.8 L733.9 1097.2 L770.6 1149.1 L809.8 1113.7 L849.3 1057.8 L886.0 1033.1 L924.4 1066.3 L962.4 1051.2 L1001.8 1115.9 L1078.0 1110.5 L1115.8 1068.5" stroke="#333" stroke-width="1.1" fill="none"/>
<path d="M694.5 1040.5V1058.6M685.0 1040.5h19M685.0 1058.6h19" stroke="#606060" stroke-width="1.1" fill="none"/>
<path d="M733.9 1045.0V1058.0M724.4 1045.0h19M724.4 1058.0h19" stroke="#606060" stroke-width="1.1" fill="none"/>
<path d="M770.6 1051.2V1069.3M761.1 1051.2h19M761.1 1069.3h19" stroke="#606060" stroke-width="1.1" fill="none"/>
<path d="M809.8 1018.0V1023.2M800.3 1018.0h19M800.3 1023.2h19" stroke="#606060" stroke-width="1.1" fill="none"/>
<path d="M849.3 1013.9V1021.4M839.8 1013.9h19M839.8 1021.4h19" stroke="#606060" stroke-width="1.1" fill="none"/>
<path d="M886.0 1013.9V1021.4M876.5 1013.9h19M876.5 1021.4h19" stroke="#606060" stroke-width="1.1" fill="none"/>
<path d="M924.4 1021.4V1051.6M914.9 1021.4h19M914.9 1051.6h19" stroke="#606060" stroke-width="1.1" fill="none"/>
<path d="M962.4 1013.9V1024.0M952.9 1013.9h19M952.9 1024.0h19" stroke="#606060" stroke-width="1.1" fill="none"/>
<path d="M1001.8 1035.2V1056.0M992.3 1035.2h19M992.3 1056.0h19" stroke="#606060" stroke-width="1.1" fill="none"/>
<path d="M1078.0 1050.6V1077.3M1068.5 1050.6h19M1068.5 1077.3h19" stroke="#606060" stroke-width="1.1" fill="none"/>
<path d="M1115.8 1061.3V1071.1M1106.3 1061.3h19M1106.3 1071.1h19" stroke="#606060" stroke-width="1.1" fill="none"/>
<path d="M692.6 1053.3 L731.8 1047.2 L768.0 1052.5 L807.1 1021.4 L849.1 1005.5 L883.9 1013.9 L923.3 1036.5 L959.8 1016.6 L997.3 1039.2 L1074.5 1096.4 L1113.1 1064.5" stroke="#000" stroke-width="5.8" fill="none" stroke-linejoin="miter" stroke-miterlimit="3"/>
<path d="M694.0 979.3V995.3M684.5 979.3h19M684.5 995.3h19" stroke="#606060" stroke-width="1.1" fill="none"/>
<path d="M733.1 979.0V990.0M723.6 979.0h19M723.6 990.0h19" stroke="#606060" stroke-width="1.1" fill="none"/>
<path d="M770.4 1021.9V1050.6M760.9 1021.9h19M760.9 1050.6h19" stroke="#606060" stroke-width="1.1" fill="none"/>
<path d="M809.0 1001.0V1012.0M799.5 1001.0h19M799.5 1012.0h19" stroke="#606060" stroke-width="1.1" fill="none"/>
<path d="M849.1 974.5V1021.3M839.6 974.5h19M839.6 1021.3h19" stroke="#606060" stroke-width="1.1" fill="none"/>
<path d="M885.8 977.2V1005.9M876.3 977.2h19M876.3 1005.9h19" stroke="#606060" stroke-width="1.1" fill="none"/>
<path d="M923.8 955.9V971.3M914.3 955.9h19M914.3 971.3h19" stroke="#606060" stroke-width="1.1" fill="none"/>
<path d="M962.4 954.0V1000.1M952.9 954.0h19M952.9 1000.1h19" stroke="#606060" stroke-width="1.1" fill="none"/>
<path d="M1001.8 961.4V990.5M992.3 961.4h19M992.3 990.5h19" stroke="#606060" stroke-width="1.1" fill="none"/>
<path d="M1078.0 963.8V977.4M1068.5 963.8h19M1068.5 977.4h19" stroke="#606060" stroke-width="1.1" fill="none"/>
<path d="M1117.9 955.9V977.2M1108.4 955.9h19M1108.4 977.2h19" stroke="#606060" stroke-width="1.1" fill="none"/>
<path d="M694.0 986.7 L733.1 984.1 L770.4 1035.7 L809.0 1006.7 L849.1 997.9 L885.8 991.3 L923.8 963.3 L962.4 974.5 L1001.0 974.5 L1078.0 971.3 L1117.9 966.5" stroke="#333" stroke-width="1.1" fill="none"/>
<path d="M695.8 1262.0V1270.0M686.3 1262.0h19M686.3 1270.0h19" stroke="#606060" stroke-width="1.1" fill="none"/>
<path d="M733.9 1271.4V1299.6M724.4 1271.4h19M724.4 1299.6h19" stroke="#606060" stroke-width="1.1" fill="none"/>
<path d="M769.8 1244.7V1270.8M760.3 1244.7h19M760.3 1270.8h19" stroke="#606060" stroke-width="1.1" fill="none"/>
<path d="M810.3 1179.0V1199.7M800.8 1179.0h19M800.8 1199.7h19" stroke="#606060" stroke-width="1.1" fill="none"/>
<path d="M849.0 1150.0V1158.0M839.5 1150.0h19M839.5 1158.0h19" stroke="#606060" stroke-width="1.1" fill="none"/>
<path d="M886.6 1111.1V1202.9M877.1 1111.1h19M877.1 1202.9h19" stroke="#606060" stroke-width="1.1" fill="none"/>
<path d="M924.4 1063.3V1105.8M914.9 1063.3h19M914.9 1105.8h19" stroke="#606060" stroke-width="1.1" fill="none"/>
<path d="M962.4 1051.7V1079.7M952.9 1051.7h19M952.9 1079.7h19" stroke="#606060" stroke-width="1.1" fill="none"/>
<path d="M998.5 1294.0V1303.0M989.0 1294.0h19M989.0 1303.0h19" stroke="#606060" stroke-width="1.1" fill="none"/>
<path d="M1078.5 1221.6V1244.7M1069.0 1221.6h19M1069.0 1244.7h19" stroke="#606060" stroke-width="1.1" fill="none"/>
<path d="M1115.8 1250.3V1262.8M1106.3 1250.3h19M1106.3 1262.8h19" stroke="#606060" stroke-width="1.1" fill="none"/>
<path d="M695.8 1266.0 L733.9 1284.7 L769.8 1257.5 L810.3 1189.1 L849.0 1153.7 L886.6 1154.5 L924.4 1084.5 L962.4 1065.8 L998.5 1298.8 L1078.5 1233.0 L1115.8 1257.0" stroke="#333" stroke-width="1.1" fill="none"/>
<ellipse cx="694.0" cy="986.7" rx="6.3" ry="7.0" fill="#fff" stroke="#000" stroke-width="2.6"/>
<ellipse cx="733.1" cy="984.1" rx="6.3" ry="7.0" fill="#fff" stroke="#000" stroke-width="2.6"/>
<ellipse cx="770.4" cy="1035.7" rx="6.3" ry="7.0" fill="#fff" stroke="#000" stroke-width="2.6"/>
<ellipse cx="809.0" cy="1006.7" rx="6.3" ry="7.0" fill="#fff" stroke="#000" stroke-width="2.6"/>
<ellipse cx="849.1" cy="997.9" rx="6.3" ry="7.0" fill="#fff" stroke="#000" stroke-width="2.6"/>
<ellipse cx="885.8" cy="991.3" rx="6.3" ry="7.0" fill="#fff" stroke="#000" stroke-width="2.6"/>
<ellipse cx="923.8" cy="963.3" rx="6.3" ry="7.0" fill="#fff" stroke="#000" stroke-width="2.6"/>
<ellipse cx="962.4" cy="974.5" rx="6.3" ry="7.0" fill="#fff" stroke="#000" stroke-width="2.6"/>
<ellipse cx="1001.0" cy="974.5" rx="6.3" ry="7.0" fill="#fff" stroke="#000" stroke-width="2.6"/>
<ellipse cx="1078.0" cy="971.3" rx="6.3" ry="7.0" fill="#fff" stroke="#000" stroke-width="2.6"/>
<ellipse cx="1117.9" cy="966.5" rx="6.3" ry="7.0" fill="#fff" stroke="#000" stroke-width="2.6"/>
<ellipse cx="695.8" cy="1266.0" rx="8.0" ry="8.6" fill="#000"/>
<ellipse cx="733.9" cy="1284.7" rx="8.0" ry="8.6" fill="#000"/>
<ellipse cx="769.8" cy="1257.5" rx="8.0" ry="8.6" fill="#000"/>
<ellipse cx="810.3" cy="1189.1" rx="8.0" ry="8.6" fill="#000"/>
<ellipse cx="849.0" cy="1153.7" rx="8.0" ry="8.6" fill="#000"/>
<ellipse cx="886.6" cy="1154.5" rx="8.0" ry="8.6" fill="#000"/>
<ellipse cx="924.4" cy="1084.5" rx="8.0" ry="8.6" fill="#000"/>
<ellipse cx="962.4" cy="1065.8" rx="8.0" ry="8.6" fill="#000"/>
<ellipse cx="998.5" cy="1298.8" rx="8.0" ry="8.6" fill="#000"/>
<ellipse cx="1078.5" cy="1233.0" rx="8.0" ry="8.6" fill="#000"/>
<ellipse cx="1115.8" cy="1257.0" rx="8.0" ry="8.6" fill="#000"/>
<text x="108.6" y="1338.2" text-anchor="middle" class="b" font-size="27.2">A</text>
<text x="142.5" y="1338.2" text-anchor="middle" class="b" font-size="27.2">S</text>
<text x="182.5" y="1338.2" text-anchor="middle" class="b" font-size="27.2">O</text>
<text x="223.0" y="1338.2" text-anchor="middle" class="b" font-size="27.2">N</text>
<text x="260.6" y="1338.2" text-anchor="middle" class="b" font-size="27.2">D</text>
<text x="297.2" y="1338.2" text-anchor="middle" class="b" font-size="27.2">J</text>
<text x="338.0" y="1338.2" text-anchor="middle" class="b" font-size="27.2">F</text>
<text x="374.3" y="1338.2" text-anchor="middle" class="b" font-size="27.2">M</text>
<text x="413.2" y="1338.2" text-anchor="middle" class="b" font-size="27.2">A</text>
<text x="450.0" y="1338.2" text-anchor="middle" class="b" font-size="27.2">M</text>
<text x="489.0" y="1338.2" text-anchor="middle" class="b" font-size="27.2">J</text>
<text x="527.6" y="1338.2" text-anchor="middle" class="b" font-size="27.2">J</text>
<text x="691.7" y="1341.1" text-anchor="middle" class="b" font-size="27.2">A</text>
<text x="728.7" y="1341.1" text-anchor="middle" class="b" font-size="27.2">S</text>
<text x="768.3" y="1341.1" text-anchor="middle" class="b" font-size="27.2">O</text>
<text x="806.8" y="1341.1" text-anchor="middle" class="b" font-size="27.2">N</text>
<text x="843.5" y="1341.1" text-anchor="middle" class="b" font-size="27.2">D</text>
<text x="879.7" y="1341.1" text-anchor="middle" class="b" font-size="27.2">J</text>
<text x="920.9" y="1341.1" text-anchor="middle" class="b" font-size="27.2">F</text>
<text x="957.1" y="1341.1" text-anchor="middle" class="b" font-size="27.2">M</text>
<text x="998.6" y="1341.1" text-anchor="middle" class="b" font-size="27.2">A</text>
<text x="1035.3" y="1341.1" text-anchor="middle" class="b" font-size="27.2">M</text>
<text x="1071.9" y="1341.1" text-anchor="middle" class="b" font-size="27.2">J</text>
<text x="1110.9" y="1341.1" text-anchor="middle" class="b" font-size="27.2">J</text>
<line x1="93.2" y1="1357.9" x2="542" y2="1357.9" stroke="#606060" stroke-width="1.4"/>
<line x1="298.8" y1="1357.9" x2="298.8" y2="1384" stroke="#606060" stroke-width="1.3"/>
<line x1="676.3" y1="1357.9" x2="1130.7" y2="1357.9" stroke="#606060" stroke-width="1.4"/>
<line x1="881.1" y1="1357.9" x2="881.1" y2="1384" stroke="#606060" stroke-width="1.3"/>
<text x="107.3" y="1383.5" class="b" font-size="27.3" textLength="55" lengthAdjust="spacingAndGlyphs">2003</text>
<text x="449.2" y="1385.5" class="b" font-size="27.3" textLength="55" lengthAdjust="spacingAndGlyphs">2004</text>
<text x="688.5" y="1385.5" class="b" font-size="27.3" textLength="54.5" lengthAdjust="spacingAndGlyphs">2003</text>
<text x="1034.6" y="1387.4" class="b" font-size="27.3" textLength="55" lengthAdjust="spacingAndGlyphs">2004</text>
<text transform="translate(29.2,368.0) rotate(-90)" x="0" y="0" class="b" font-size="43" textLength="128.8" lengthAdjust="spacingAndGlyphs">% 16:0</text>
<text transform="translate(34.2,780.8) rotate(-90)" x="0" y="0" class="b" font-size="43" textLength="186.2" lengthAdjust="spacingAndGlyphs">% 16:1n-7</text>
<text transform="translate(29.0,1221.6) rotate(-90)" x="0" y="0" class="b" font-size="43" textLength="183.8" lengthAdjust="spacingAndGlyphs">% 22:6n-3</text>
<text transform="translate(615.2,398.2) rotate(-90)" x="0" y="0" class="b" font-size="43" textLength="186.6" lengthAdjust="spacingAndGlyphs">% 20:4n-6</text>
<text transform="translate(616.1,807.4) rotate(-90)" x="0" y="0" class="b" font-size="43" textLength="185.0" lengthAdjust="spacingAndGlyphs">% 20:5n-3</text>
<text transform="translate(611.1,1211.2) rotate(-90)" x="0" y="0" class="b" font-size="43" textLength="215.4" lengthAdjust="spacingAndGlyphs">Total PUFA</text>
<rect x="117" y="0.6" width="44.6" height="41.7" fill="#d9d9d9" stroke="#777" stroke-width="1.3"/>
<text x="174.9" y="35.9" class="b" font-size="43" textLength="301.5" lengthAdjust="spacingAndGlyphs">Upwelling period</text>
<rect x="502.6" y="0.6" width="44.8" height="41.7" fill="#fff" stroke="#777" stroke-width="1.3"/>
<text x="555.8" y="36.0" class="b" font-size="43" textLength="489" lengthAdjust="spacingAndGlyphs">Upwelling relaxation period</text>
<text x="1130.6" y="261.0" class="b" font-size="41.5" textLength="125.4" lengthAdjust="spacingAndGlyphs">Muscle</text>
<text x="1129.0" y="320.5" class="b" font-size="41.5" textLength="124.6" lengthAdjust="spacingAndGlyphs">Mantle</text>
<text x="1130.0" y="389.6" class="b" font-size="41.5" textLength="118" lengthAdjust="spacingAndGlyphs">Gonad</text>
<text x="1134.1" y="458.3" class="b" font-size="41.5" textLength="266.1" lengthAdjust="spacingAndGlyphs">Digestive gland</text>
</svg></body></html>
